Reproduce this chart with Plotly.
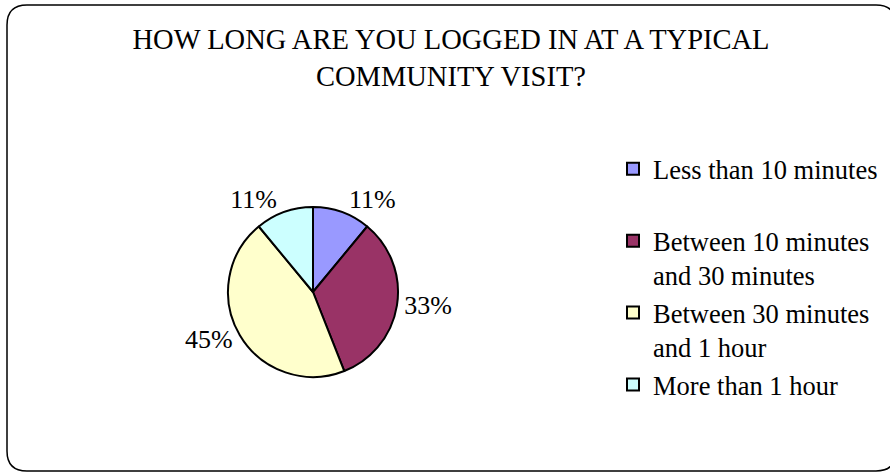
import plotly.graph_objects as go

# Data
categories = ["Less than 10 minutes", "Between 10 minutes and 30 minutes",
              "Between 30 minutes and 1 hour", "More than 1 hour"]
legend_text = ["Less than 10 minutes<br>&nbsp;", "Between 10 minutes<br>and 30 minutes",
               "Between 30 minutes<br>and 1 hour", "More than 1 hour<br>&nbsp;"]
shares = [11, 33, 45, 11]
colors = ["#9999FF", "#993366", "#FFFFCC", "#CCFFFF"]
title_text = "HOW LONG ARE YOU LOGGED IN AT A TYPICAL<br>COMMUNITY VISIT?"

W, H = 890, 473
FONT = "Liberation Serif, Times New Roman, serif"

# pie geometry (pixels)
cx, cy, r = 313, 292, 85

fig = go.Figure(go.Pie(
    labels=legend_text,
    values=shares,
    sort=False,
    direction="clockwise",
    rotation=0,
    marker=dict(colors=colors, line=dict(color="black", width=2)),
    textposition="outside",
    texttemplate="%{value}%",
    textfont=dict(family=FONT, size=26, color="black"),
    domain=dict(x=[(cx - r) / W, (cx + r) / W], y=[(H - cy - r) / H, (H - cy + r) / H]),
    showlegend=True,
    hoverinfo="label+percent",
))

# rounded border
def px(x):
    return x / W

def py(y):
    return 1 - y / H

x0, y0, x1, y1, rad = 7, 5, 896, 471, 20
path = (
    f"M {px(x0+rad)},{py(y0)} L {px(x1-rad)},{py(y0)} "
    f"Q {px(x1)},{py(y0)} {px(x1)},{py(y0+rad)} "
    f"L {px(x1)},{py(y1-rad)} Q {px(x1)},{py(y1)} {px(x1-rad)},{py(y1)} "
    f"L {px(x0+rad)},{py(y1)} Q {px(x0)},{py(y1)} {px(x0)},{py(y1-rad)} "
    f"L {px(x0)},{py(y0+rad)} Q {px(x0)},{py(y0)} {px(x0+rad)},{py(y0)} Z"
)

fig.update_layout(
    width=W, height=H,
    margin=dict(l=0, r=0, t=0, b=0, autoexpand=False),
    paper_bgcolor="white",
    plot_bgcolor="white",
    font=dict(family=FONT, color="black"),
    title=dict(text=title_text, x=451 / W, xanchor="center", xref="container",
               y=1 - 49 / H, yanchor="top", yref="container",
               font=dict(family=FONT, size=28.5, color="black")),
    legend=dict(xref="container", yref="container", x=613 / W, xanchor="left",
                y=1 - 145 / H, yanchor="top", valign="top", maxheight=1000,
                font=dict(family=FONT, size=26.5, color="black"),
                bgcolor="rgba(0,0,0,0)", itemclick=False, itemdoubleclick=False),
    shapes=[dict(type="path", path=path, xref="paper", yref="paper",
                 line=dict(color="black", width=1.5), fillcolor="rgba(0,0,0,0)")],
)

fig.write_html("out.html")
